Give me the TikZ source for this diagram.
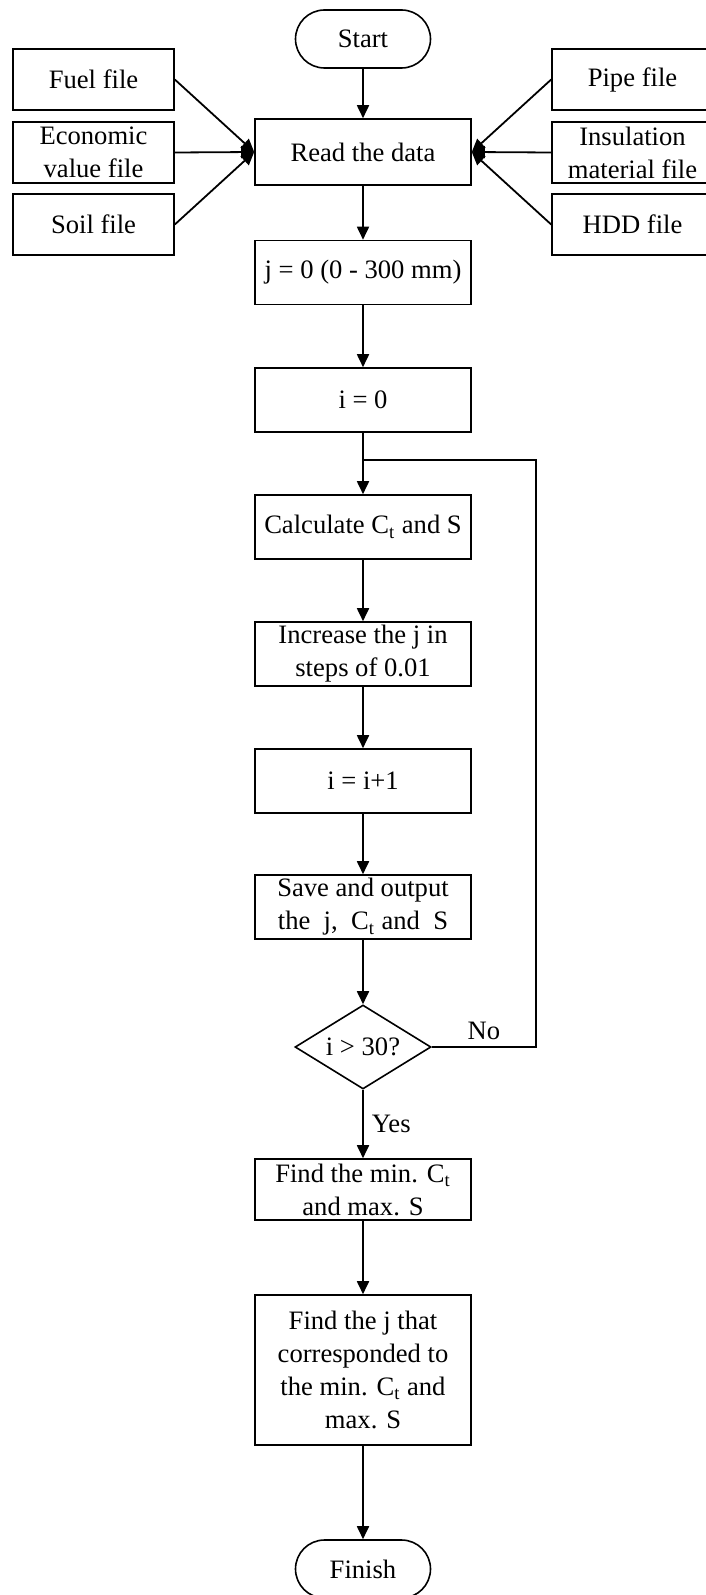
\documentclass[tikz,border=0pt]{standalone}
\usepackage{fontspec}
\setmainfont{Liberation Serif}
\usetikzlibrary{shapes.geometric,arrows.meta}
\begin{document}
\begin{tikzpicture}[x=0.5pt,y=-0.5pt,
 font=\fontsize{13.3}{16.5}\selectfont,
 box/.style={draw, line width=0.8pt, minimum width=108pt, minimum height=32pt, inner sep=0pt, align=center},
 side/.style={draw, line width=0.8pt, minimum width=80.5pt, minimum height=30.5pt, inner sep=0pt, align=center},
 term/.style={draw, line width=0.8pt, rounded corners=14.5pt, minimum width=67.5pt, minimum height=29pt, inner sep=0pt},
 dia/.style={diamond, draw, line width=0.8pt, aspect=1.62, minimum width=68pt, minimum height=42pt, inner sep=0pt},
 arr/.style={line width=0.9pt, -{Triangle[length=6.5pt,width=6pt]}},
 ln/.style={line width=0.9pt}]
\useasboundingbox (0,0) rectangle (706,1595);
\node[term] (start) at (363,39) {Start};
\node[box, minimum height=33pt] (read) at (363,152) {Read the data};
\node[side] (fuel) at (93.5,79.5) {Fuel file};
\node[side] (econ) at (93.5,152.5) {Economic\\value file};
\node[side] (soil) at (93.5,224.5) {Soil file};
\node[side] (pipe) at (632.5,79.5) {Pipe file};
\node[side] (ins) at (632.5,152.5) {Insulation\\material file};
\node[side] (hdd) at (632.5,224.5) {HDD file};
\node[box] (j0) at (363,272.5) {j = 0 (0 - 300 mm)};
\node[box] (i0) at (363,400) {i = 0};
\node[box] (calc) at (363,527) {Calculate C\textsubscript{t} and S};
\node[box] (inc) at (363,654) {Increase the j in\\steps of 0.01};
\node[box] (inc1) at (363,781) {i = i+1};
\node[box] (save) at (363,907) {Save and output\\the~ j,~ C\textsubscript{t} and~ S};
\node[dia] (dec) at (363,1047) {i > 30?};
\node[box, minimum height=30.5pt] (fmin) at (363,1189.5) {Find the min. C\textsubscript{t}\\and max. S};
\node[box, minimum height=75pt] (fj) at (363,1370) {Find the j that\\corresponded to\\the min. C\textsubscript{t} and\\max. S};
\node[term] (fin) at (363,1569) {Finish};
\coordinate (lp1) at (536,1047);
\coordinate (lp2) at (536,460);
\coordinate (jn) at (363,460);
\draw[arr] (start) -- (read);
\draw[arr] (fuel.east) -- (read.west);
\draw[arr] (econ.east) -- (read.west);
\draw[arr] (soil.east) -- (read.west);
\draw[arr] (pipe.west) -- (read.east);
\draw[arr] (ins.west) -- (read.east);
\draw[arr] (hdd.west) -- (read.east);
\draw[arr] (read) -- (j0);
\draw[arr] (j0) -- (i0);
\draw[arr] (i0) -- (calc);
\draw[arr] (calc) -- (inc);
\draw[arr] (inc) -- (inc1);
\draw[arr] (inc1) -- (save);
\draw[arr] (save) -- (dec);
\draw[ln] (dec.east) -- node[above, inner sep=3pt] (nol) {No} (lp1) -- (lp2) -- (jn);
\draw[arr] (dec) -- node[right, inner sep=4pt] (yesl) {Yes} (fmin);
\draw[arr] (fmin) -- (fj);
\draw[arr] (fj) -- (fin);
\end{tikzpicture}
\end{document}
